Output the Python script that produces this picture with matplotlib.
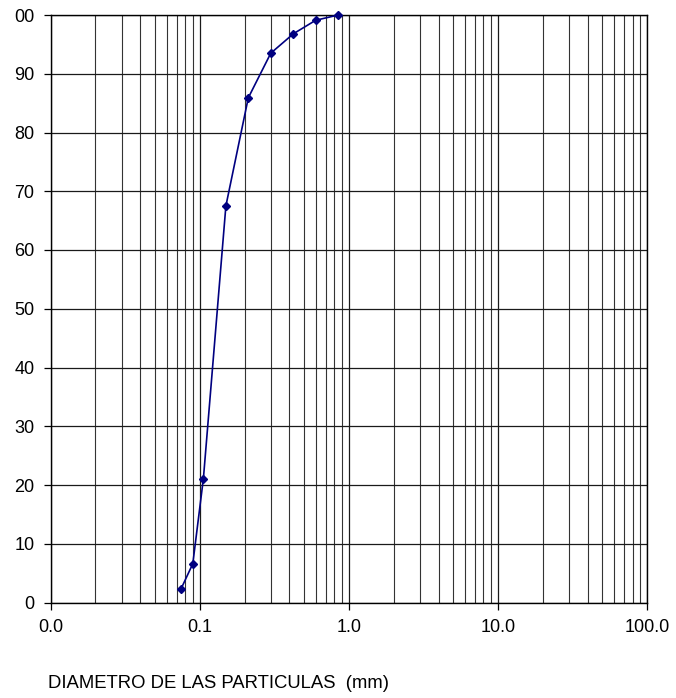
import matplotlib
matplotlib.use("Agg")
import matplotlib.pyplot as plt
from matplotlib.ticker import FixedLocator, LogLocator, NullFormatter

plt.rcParams['font.family'] = ['Liberation Sans', 'DejaVu Sans']

diameter_mm = [0.075, 0.09, 0.106, 0.15, 0.212, 0.30, 0.425, 0.60, 0.85]
percent_passing = [2.3, 6.6, 21.1, 67.5, 85.9, 93.5, 96.8, 99.1, 100.0]

x_ticks = [0.01, 0.1, 1, 10, 100]
x_tick_labels = ["0.0", "0.1", "1.0", "10.0", "100.0"]
y_ticks = [0, 10, 20, 30, 40, 50, 60, 70, 80, 90, 100]
y_tick_labels = ["0", "10", "20", "30", "40", "50", "60", "70", "80", "90", "00"]
x_label = "DIAMETRO DE LAS PARTICULAS  (mm)"

fig = plt.figure(figsize=(6.76, 6.98), dpi=100)
ax = fig.add_axes([50.5/676, 1 - 602.5/698, 596.5/676, 587.5/698])

ax.set_xscale('log')
ax.set_xlim(0.01, 100)
ax.set_ylim(0, 100)

ax.xaxis.set_major_locator(FixedLocator(x_ticks))
ax.set_xticklabels(x_tick_labels)
ax.xaxis.set_minor_locator(LogLocator(base=10, subs=range(2, 10)))
ax.xaxis.set_minor_formatter(NullFormatter())
ax.set_yticks(y_ticks)
ax.set_yticklabels(y_tick_labels)

ax.grid(True, which='major', axis='both', color='#1a1a1a', linewidth=0.9)
ax.grid(True, which='minor', axis='x', color='#333333', linewidth=0.8)
ax.set_axisbelow(True)

ax.tick_params(axis='both', which='major', direction='out', length=5, width=0.9,
               labelsize=13, colors='black')
ax.tick_params(axis='y', which='major', pad=6.5)
ax.tick_params(axis='x', which='major', pad=7)
ax.tick_params(axis='x', which='minor', length=0)
for s in ax.spines.values():
    s.set_color('black')
    s.set_linewidth(1.0)

ax.plot(diameter_mm, percent_passing, color='#000080', linewidth=1.2,
        marker='D', markersize=4.5, markerfacecolor='#000080', markeredgecolor='#000080',
        clip_on=False, zorder=5)

fig.text(48/676, 1 - 683/698, x_label, fontsize=13.3, ha='left', va='center', color='black')

fig.savefig('out.png', dpi=100)
